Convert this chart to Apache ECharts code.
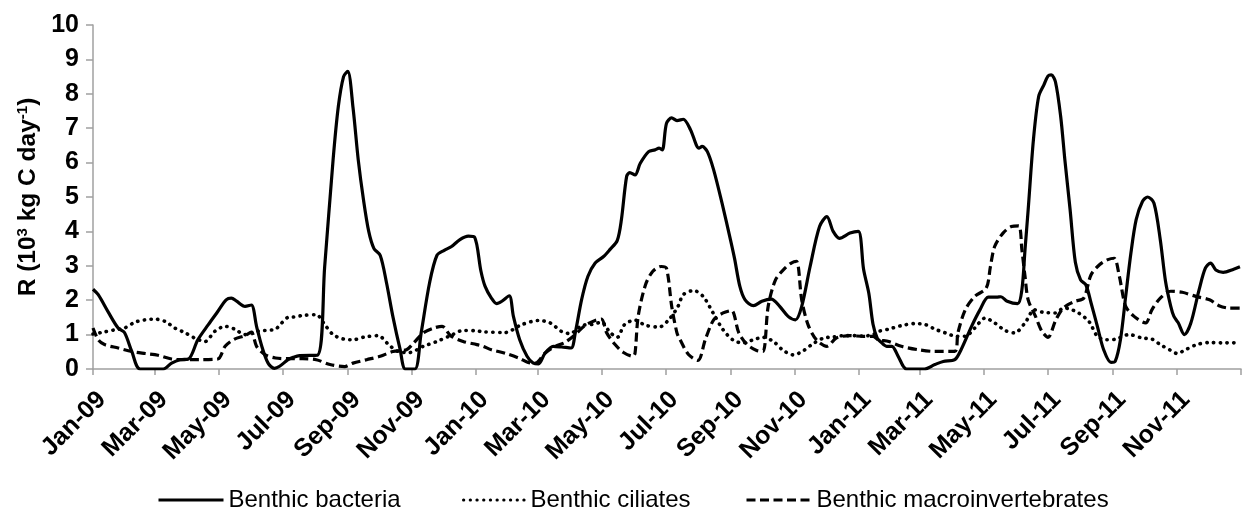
<!DOCTYPE html>
<html>
<head>
<meta charset="utf-8">
<script src="https://cdn.jsdelivr.net/npm/echarts@6/dist/echarts.min.js"></script>
<style>
html,body{margin:0;padding:0;background:#fff;}
#chart{width:1242px;height:511px;}
</style>
</head>
<body>
<div id="chart"></div>
<script>
// ---- tick labels (every two months) ----
const tickDates = ['2009-01-01','2009-03-01','2009-05-01','2009-07-01','2009-09-01','2009-11-01',
  '2010-01-01','2010-03-01','2010-05-01','2010-07-01','2010-09-01','2010-11-01',
  '2011-01-01','2011-03-01','2011-05-01','2011-07-01','2011-09-01','2011-11-01','2012-01-01'];
const tickLabels = ['Jan-09','Mar-09','May-09','Jul-09','Sep-09','Nov-09',
  'Jan-10','Mar-10','May-10','Jul-10','Sep-10','Nov-10',
  'Jan-11','Mar-11','May-11','Jul-11','Sep-11','Nov-11'];
const yTicks = [0,1,2,3,4,5,6,7,8,9,10];
const seriesNames = ['Benthic bacteria','Benthic ciliates','Benthic macroinvertebrates'];

// ---- series values (10^3 kg C day^-1) ----
const bacteria = [
 ['2009-01-01',2.32],['2009-01-06',2.16],['2009-01-16',1.63],['2009-01-25',1.19],['2009-01-31',1.06],
 ['2009-02-07',0.51],['2009-02-15',0],['2009-03-09',0],['2009-03-17',0.17],['2009-03-25',0.27],
 ['2009-04-02',0.29],['2009-04-11',0.85],['2009-04-21',1.29],['2009-04-30',1.67],['2009-05-08',2.01],
 ['2009-05-13',2.06],['2009-05-18',1.97],['2009-05-26',1.82],['2009-06-01',1.86],['2009-06-06',1.24],
 ['2009-06-11',0.66],['2009-06-17',0.17],['2009-06-23',0.02],['2009-06-28',0.08],['2009-07-06',0.27],
 ['2009-07-11',0.34],['2009-07-17',0.39],['2009-08-03',0.40],['2009-08-10',2.98],['2009-08-18',6.08],
 ['2009-08-23',7.63],['2009-08-28',8.50],['2009-09-01',8.65],['2009-09-06',7.60],['2009-09-11',6.08],
 ['2009-09-16',4.92],['2009-09-21',4.00],['2009-09-26',3.50],['2009-10-02',3.30],['2009-10-08',2.50],
 ['2009-10-14',1.53],['2009-10-21',0.56],['2009-10-26',0],['2009-11-04',0],['2009-11-10',1.05],
 ['2009-11-18',2.50],['2009-11-25',3.30],['2009-12-02',3.45],['2009-12-09',3.56],['2009-12-17',3.76],
 ['2009-12-25',3.86],['2009-12-31',3.83],['2010-01-06',2.85],['2010-01-10',2.40],['2010-01-16',2.06],
 ['2010-01-21',1.90],['2010-01-26',1.97],['2010-02-02',2.13],['2010-02-06',1.53],['2010-02-12',0.85],
 ['2010-02-19',0.37],['2010-02-25',0.17],['2010-03-02',0.15],['2010-03-08',0.45],['2010-03-16',0.66],
 ['2010-03-24',0.64],['2010-04-02',0.61],['2010-04-06',1.05],['2010-04-12',2.01],['2010-04-18',2.69],
 ['2010-04-25',3.08],['2010-05-03',3.27],['2010-05-09',3.47],['2010-05-16',3.73],['2010-05-20',4.34],
 ['2010-05-25',5.60],['2010-05-28',5.71],['2010-06-02',5.64],['2010-06-07',5.98],['2010-06-15',6.32],
 ['2010-06-21',6.37],['2010-06-25',6.42],['2010-06-28',6.37],['2010-07-02',7.14],['2010-07-07',7.30],
 ['2010-07-12',7.22],['2010-07-18',7.26],['2010-07-25',6.95],['2010-08-02',6.42],['2010-08-05',6.47],
 ['2010-08-10',6.32],['2010-08-16',5.79],['2010-08-24',4.82],['2010-09-01',3.76],['2010-09-05',3.20],
 ['2010-09-10',2.40],['2010-09-15',2.01],['2010-09-23',1.84],['2010-10-01',1.97],['2010-10-10',2.03],
 ['2010-10-18',1.82],['2010-10-26',1.53],['2010-11-02',1.43],['2010-11-08',1.82],['2010-11-16',2.98],
 ['2010-11-25',4.14],['2010-12-02',4.43],['2010-12-08',4.00],['2010-12-14',3.80],['2010-12-24',3.95],
 ['2011-01-01',4.00],['2011-01-06',2.90],['2011-01-11',2.20],['2011-01-15',1.30],['2011-01-19',0.90],
 ['2011-01-22',0.80],['2011-01-28',0.66],['2011-02-02',0.66],['2011-02-08',0.37],['2011-02-16',0],
 ['2011-03-05',0],['2011-03-15',0.13],['2011-03-23',0.22],['2011-04-03',0.27],['2011-04-09',0.56],
 ['2011-04-19',1.24],['2011-04-27',1.72],['2011-05-05',2.09],['2011-05-13',2.09],['2011-05-17',2.10],
 ['2011-05-23',1.97],['2011-06-02',1.90],['2011-06-06',2.30],['2011-06-09',3.47],['2011-06-12',4.63],
 ['2011-06-17',6.66],['2011-06-22',7.92],['2011-06-27',8.26],['2011-07-01',8.52],['2011-07-04',8.55],
 ['2011-07-08',8.35],['2011-07-13',7.34],['2011-07-17',6.08],['2011-07-22',4.63],['2011-07-27',3.10],
 ['2011-08-01',2.59],['2011-08-06',2.45],['2011-08-11',1.92],['2011-08-17',1.24],['2011-08-23',0.56],
 ['2011-08-30',0.19],['2011-09-03',0.22],['2011-09-08',0.85],['2011-09-13',2.11],['2011-09-18',3.37],
 ['2011-09-23',4.34],['2011-09-29',4.87],['2011-10-04',5.00],['2011-10-10',4.82],['2011-10-16',3.76],
 ['2011-10-21',2.55],['2011-10-26',1.82],['2011-10-29',1.53],['2011-11-02',1.35],['2011-11-08',1.00],
 ['2011-11-14',1.32],['2011-11-22',2.30],['2011-11-28',2.93],['2011-12-03',3.08],['2011-12-08',2.88],
 ['2011-12-15',2.81],['2011-12-25',2.90],['2011-12-31',2.97]
];
const ciliates = [
 ['2009-01-01',1.02],['2009-01-09',1.06],['2009-01-22',1.14],['2009-01-31',1.19],['2009-02-10',1.36],
 ['2009-02-20',1.43],['2009-03-01',1.45],['2009-03-11',1.38],['2009-03-20',1.19],['2009-03-30',1.05],
 ['2009-04-08',0.90],['2009-04-18',0.80],['2009-04-27',1.09],['2009-05-07',1.24],['2009-05-16',1.16],
 ['2009-05-26',1.00],['2009-06-05',1.09],['2009-06-14',1.12],['2009-06-24',1.16],['2009-06-30',1.34],
 ['2009-07-06',1.50],['2009-07-11',1.51],['2009-07-21',1.56],['2009-08-02',1.58],['2009-08-10',1.29],
 ['2009-08-18',1.00],['2009-08-28',0.87],['2009-09-06',0.85],['2009-09-17',0.93],['2009-09-30',0.97],
 ['2009-10-10',0.71],['2009-10-19',0.51],['2009-10-30',0.48],['2009-11-12',0.66],['2009-11-25',0.80],
 ['2009-12-08',0.97],['2009-12-20',1.12],['2010-01-02',1.11],['2010-01-08',1.08],['2010-01-29',1.06],
 ['2010-02-14',1.29],['2010-03-02',1.41],['2010-03-13',1.34],['2010-03-24',1.09],['2010-04-01',1.03],
 ['2010-04-12',1.26],['2010-04-23',1.30],['2010-05-01',1.36],['2010-05-09',1.07],['2010-05-16',0.92],
 ['2010-05-23',1.29],['2010-06-02',1.42],['2010-06-12',1.27],['2010-06-25',1.22],['2010-07-05',1.46],
 ['2010-07-13',1.82],['2010-07-18',2.16],['2010-07-28',2.28],['2010-08-06',2.11],['2010-08-16',1.60],
 ['2010-08-25',1.14],['2010-09-04',0.83],['2010-09-13',0.76],['2010-09-23',0.85],['2010-10-02',0.92],
 ['2010-10-12',0.80],['2010-10-21',0.55],['2010-10-31',0.41],['2010-11-10',0.54],['2010-11-19',0.74],
 ['2010-11-29',0.90],['2010-12-08',0.93],['2010-12-18',0.97],['2010-12-27',0.97],['2011-01-06',0.96],
 ['2011-01-15',1.00],['2011-01-20',1.09],['2011-01-30',1.16],['2011-02-11',1.26],['2011-02-24',1.32],
 ['2011-03-06',1.29],['2011-03-15',1.16],['2011-03-25',1.05],['2011-04-05',0.95],['2011-04-13',0.95],
 ['2011-04-22',1.19],['2011-05-02',1.48],['2011-05-11',1.34],['2011-05-21',1.12],['2011-05-30',1.05],
 ['2011-06-09',1.34],['2011-06-18',1.72],['2011-06-26',1.65],['2011-07-08',1.63],['2011-07-16',1.77],
 ['2011-07-21',1.75],['2011-07-30',1.63],['2011-08-09',1.38],['2011-08-17',0.95],['2011-08-25',0.85],
 ['2011-09-04',0.87],['2011-09-16',1.00],['2011-09-29',0.90],['2011-10-08',0.87],['2011-10-16',0.71],
 ['2011-10-26',0.54],['2011-11-01',0.45],['2011-11-09',0.56],['2011-11-20',0.71],['2011-12-02',0.77],
 ['2011-12-14',0.76],['2011-12-31',0.76]
];
const macroinvertebrates = [
 ['2009-01-01',1.19],['2009-01-06',0.85],['2009-01-12',0.71],['2009-01-25',0.61],['2009-02-07',0.51],
 ['2009-02-20',0.45],['2009-03-04',0.40],['2009-03-17',0.29],['2009-03-30',0.27],['2009-04-11',0.27],
 ['2009-04-30',0.29],['2009-05-07',0.66],['2009-05-16',0.87],['2009-05-26',0.97],['2009-06-01',1.07],
 ['2009-06-06',0.66],['2009-06-14',0.42],['2009-06-24',0.32],['2009-07-06',0.30],['2009-07-20',0.30],
 ['2009-08-02',0.27],['2009-08-15',0.13],['2009-08-29',0.07],['2009-09-06',0.17],['2009-09-19',0.27],
 ['2009-10-02',0.37],['2009-10-14',0.51],['2009-10-27',0.56],['2009-11-03',0.76],['2009-11-12',1.05],
 ['2009-11-22',1.19],['2009-11-30',1.24],['2009-12-08',0.97],['2009-12-20',0.80],['2010-01-02',0.71],
 ['2010-01-08',0.66],['2010-01-16',0.56],['2010-01-29',0.46],['2010-02-11',0.32],['2010-02-20',0.19],
 ['2010-02-27',0.17],['2010-03-08',0.46],['2010-03-18',0.66],['2010-03-27',0.77],['2010-04-06',1.00],
 ['2010-04-15',1.26],['2010-04-25',1.41],['2010-05-01',1.45],['2010-05-06',1.05],['2010-05-14',0.71],
 ['2010-05-22',0.48],['2010-05-31',0.37],['2010-06-02',0.46],['2010-06-05',1.53],['2010-06-12',2.45],
 ['2010-06-19',2.84],['2010-06-27',2.98],['2010-07-02',2.93],['2010-07-07',1.82],['2010-07-12',1.05],
 ['2010-07-15',0.85],['2010-07-23',0.42],['2010-08-01',0.25],['2010-08-08',0.85],['2010-08-16',1.43],
 ['2010-08-25',1.63],['2010-09-02',1.70],['2010-09-09',1.05],['2010-09-17',0.71],['2010-09-26',0.54],
 ['2010-10-02',0.51],['2010-10-07',1.82],['2010-10-14',2.59],['2010-10-23',2.93],['2010-10-29',3.08],
 ['2010-11-03',3.13],['2010-11-08',2.01],['2010-11-14',1.29],['2010-11-22',0.85],['2010-12-02',0.66],
 ['2010-12-11',0.90],['2010-12-24',0.97],['2011-01-06',0.95],['2011-01-15',0.95],['2011-01-20',0.85],
 ['2011-01-30',0.80],['2011-02-11',0.66],['2011-02-27',0.56],['2011-03-15',0.51],['2011-04-03',0.51],
 ['2011-04-06',1.05],['2011-04-13',1.72],['2011-04-22',2.11],['2011-05-03',2.35],['2011-05-07',2.98],
 ['2011-05-11',3.56],['2011-05-19',3.95],['2011-05-27',4.14],['2011-06-03',4.16],['2011-06-06',3.47],
 ['2011-06-09',2.69],['2011-06-12',2.01],['2011-06-19',1.53],['2011-06-25',1.10],['2011-07-01',0.92],
 ['2011-07-08',1.40],['2011-07-14',1.72],['2011-07-20',1.87],['2011-07-27',1.97],['2011-08-04',2.06],
 ['2011-08-11',2.74],['2011-08-19',3.03],['2011-08-27',3.18],['2011-09-02',3.22],['2011-09-07',2.69],
 ['2011-09-13',1.82],['2011-09-21',1.53],['2011-10-02',1.34],['2011-10-08',1.72],['2011-10-16',2.06],
 ['2011-10-26',2.26],['2011-11-06',2.23],['2011-11-19',2.11],['2011-12-02',2.01],['2011-12-11',1.84],
 ['2011-12-21',1.77],['2011-12-31',1.77]
];

// ---- build ----
function ts(s){ const p = s.split('-').map(Number); return Date.UTC(p[0], p[1]-1, p[2]); }
const toXY = arr => arr.map(d => [ts(d[0]), d[1]]);
const tickTs = tickDates.map(ts);
const labelTs = tickTs.slice(0, tickLabels.length);
const labelMap = {};
labelTs.forEach((t, i) => { labelMap[t] = tickLabels[i]; });

const FONT = "'Liberation Sans', Arial, Helvetica, sans-serif";
const AXIS_GRAY = '#a0a0a0';

const legendText = { fontSize: 24, color: '#000', fontFamily: FONT };
const legendCommon = { top: 488, padding: 0, itemHeight: 14, selectedMode: false,
  itemStyle: { opacity: 0 }, lineStyle: { width: 3 }, textStyle: legendText };

const chart = echarts.init(document.getElementById('chart'), null, { renderer: 'canvas' });
chart.setOption({
  animation: false,
  backgroundColor: '#fff',
  textStyle: { fontFamily: FONT },
  grid: { left: 93, right: 1, top: 25, bottom: 142, containLabel: false, outerBoundsMode: 'none' },
  xAxis: {
    type: 'value',
    min: tickTs[0],
    max: tickTs[tickTs.length - 1],
    splitLine: { show: false },
    axisLine: { show: true, lineStyle: { color: AXIS_GRAY, width: 1.5 } },
    axisTick: { show: true, customValues: tickTs, length: 6, lineStyle: { color: AXIS_GRAY, width: 1.5 } },
    axisLabel: {
      customValues: labelTs,
      formatter: v => labelMap[v] || '',
      rotate: 45,
      align: 'right',
      verticalAlign: 'top',
      margin: 18,
      fontSize: 25,
      fontWeight: 'bold',
      fontFamily: FONT,
      color: '#000',
      hideOverlap: false
    }
  },
  yAxis: {
    type: 'value',
    min: yTicks[0],
    max: yTicks[yTicks.length - 1],
    interval: 1,
    splitLine: { show: false },
    axisLine: { show: true, lineStyle: { color: AXIS_GRAY, width: 1.5 } },
    axisTick: { show: true, length: 7, lineStyle: { color: AXIS_GRAY, width: 1.5 } },
    axisLabel: { margin: 14, fontSize: 25, fontWeight: 'bold', fontFamily: FONT, color: '#000' },
    name: '{a|R (10}{s|3}{a| kg C day}{s|-1}{a|)}',
    nameLocation: 'middle',
    nameRotate: 90,
    nameGap: 51,
    nameTextStyle: {
      rich: {
        a: { fontSize: 24.5, fontWeight: 'bold', fontFamily: FONT, color: '#000' },
        s: { fontSize: 15, fontWeight: 'bold', fontFamily: FONT, color: '#000', verticalAlign: 'top' }
      }
    }
  },
  legend: [
    Object.assign({}, legendCommon, { data: [seriesNames[0]], left: 157, itemWidth: 65 }),
    Object.assign({}, legendCommon, { data: [seriesNames[1]], left: 462, itemWidth: 62 }),
    Object.assign({}, legendCommon, { data: [seriesNames[2]], left: 745, itemWidth: 65 })
  ],
  series: [
    { name: seriesNames[0], type: 'line', data: toXY(bacteria), symbol: 'none', smooth: 0.3, z: 3,
      lineStyle: { color: '#000', width: 3.2, type: 'solid', join: 'round' } },
    { name: seriesNames[1], type: 'line', data: toXY(ciliates), symbol: 'none', smooth: 0.3, z: 2,
      lineStyle: { color: '#000', width: 3.6, type: [0.3, 6.4], cap: 'round', join: 'round' } },
    { name: seriesNames[2], type: 'line', data: toXY(macroinvertebrates), symbol: 'none', smooth: 0.3, z: 2,
      lineStyle: { color: '#000', width: 3.2, type: [9, 4.5], cap: 'butt', join: 'round' } }
  ]
});
</script>
</body>
</html>
